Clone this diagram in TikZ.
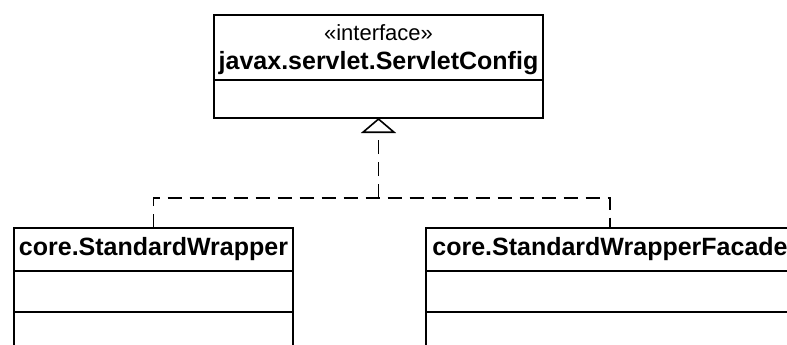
\documentclass[tikz,border=0pt]{standalone}
\usepackage{fontspec}
\setmainfont{Liberation Sans}
\usetikzlibrary{positioning, arrows.meta}

\begin{document}
\begin{tikzpicture}[x=1pt, y=-1pt,
	cls/.style={draw, line width=1.6pt, inner sep=0pt, outer sep=0pt, minimum width=#1},
	clsname/.style={font=\fontsize{25}{28}\selectfont\bfseries},
	stereo/.style={font=\fontsize{22}{24}\selectfont},
	realize/.style={line width=1.6pt, dash pattern=on 14pt off 8pt}]
	\clip (0,0) rectangle (787,345);
	% interface
	\node[cls=329pt, minimum height=65pt] (cfg) at (378.5, 47.5) {};
	\node[stereo] (cfgstereo) at ([yshift=-18pt]cfg.north) {«interface»};
	\node[clsname] (cfgname) at ([yshift=-48pt]cfg.north) {javax.servlet.ServletConfig};
	\node[cls=329pt, minimum height=38pt, below=0pt of cfg] (cfgattr) {};
	% implementing classes
	\node[cls=279pt, minimum height=43pt, clsname] (wrapper) at (153.5, 249.5) {core.StandardWrapper};
	\node[cls=279pt, minimum height=41pt, below=0pt of wrapper] (wrapperattr) {};
	\node[cls=279pt, minimum height=60pt, below=0pt of wrapperattr] (wrapperops) {};
	\node[cls=368pt, minimum height=43pt, clsname] (facade) at (610, 249.5) {core.StandardWrapperFacade};
	\node[cls=368pt, minimum height=41pt, below=0pt of facade] (facadeattr) {};
	\node[cls=368pt, minimum height=60pt, below=0pt of facadeattr] (facadeops) {};
	% realization
	\coordinate (fork) at (cfgattr.south |- 0, 198);
	\draw[realize] (wrapper.north) |- (fork) -| (facade.north);
	\draw[realize, -{Triangle[open, length=15pt, width=35pt, fill=white]}] (fork) -- (cfgattr.south);
\end{tikzpicture}
\end{document}
